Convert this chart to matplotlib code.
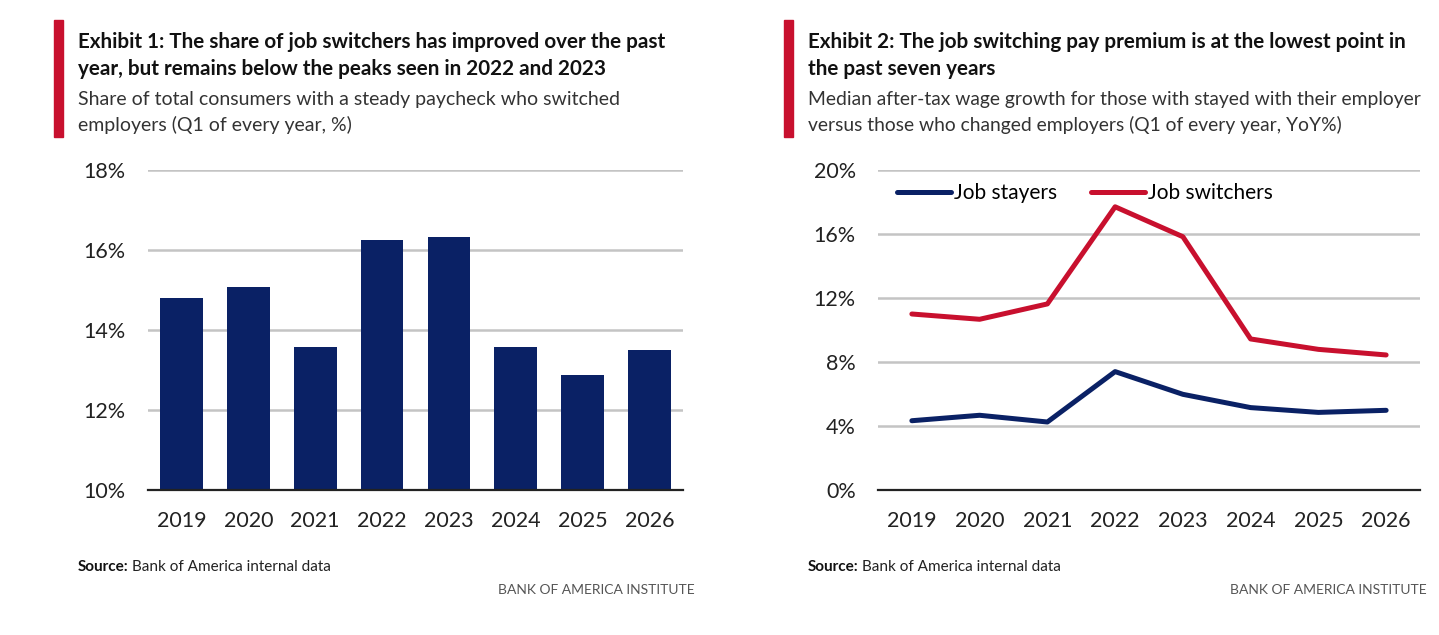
import matplotlib
matplotlib.use("Agg")
import matplotlib.pyplot as plt
from matplotlib.patches import Rectangle
import numpy as np

plt.rcParams['font.family'] = ['Lato', 'DejaVu Sans']

# data
years = ['2019', '2020', '2021', '2022', '2023', '2024', '2025', '2026']
switcher_share = [14.8, 15.08, 13.58, 16.26, 16.32, 13.57, 12.88, 13.5]
stayers = [4.33, 4.67, 4.25, 7.40, 5.98, 5.15, 4.85, 4.98]
switchers = [11.0, 10.67, 11.63, 17.7, 15.83, 9.44, 8.79, 8.44]

W, H = 1439, 635
navy = '#0a2165'
red = '#c8102e'
grid_col = '#c4c4c4'


def px(x, y):
    # pixel position (top-left origin) -> figure fraction
    return x / W, 1 - y / H


def ax_rect(x0, x1, y0, y1):
    return [x0 / W, 1 - y1 / H, (x1 - x0) / W, (y1 - y0) / H]


def style_axis(ax):
    for s in ['top', 'right', 'left']:
        ax.spines[s].set_visible(False)
    ax.spines['bottom'].set_color('#222222')
    ax.spines['bottom'].set_linewidth(1.6)
    ax.grid(axis='y', color=grid_col, linewidth=1.8)
    ax.set_axisbelow(True)
    ax.tick_params(axis='both', length=0, labelsize=15.5, colors='#222222')
    ax.tick_params(axis='y', pad=16)
    ax.tick_params(axis='x', pad=15)
    ax.set_xlim(-0.5, len(years) - 0.5)


def header(x, bar_x, title, subtitle, sub_size):
    fig.patches.append(Rectangle(px(bar_x, 137), 9 / W, 117 / H,
                                 transform=fig.transFigure, color=red))
    for line, y in zip(title, [48, 75]):
        fig.text(*px(x, y), line, fontsize=14.9, fontweight='bold',
                 va='baseline', ha='left', color='#111111')
    for line, y in zip(subtitle, [105, 131]):
        fig.text(*px(x, y), line, fontsize=sub_size, va='baseline',
                 ha='left', color='#333333')


def footer(x, right):
    t = fig.text(*px(x, 571), 'Source:', fontsize=11, fontweight='bold',
                 va='baseline', ha='left', color='#111111')
    fig.canvas.draw()
    bb = t.get_window_extent()
    fig.text(bb.x1 / W + 3 / W, 1 - 571 / H, 'Bank of America internal data',
             fontsize=11, va='baseline', ha='left', color='#222222')
    fig.text(*px(right, 594), 'BANK OF AMERICA INSTITUTE', fontsize=10,
             va='baseline', ha='right', color='#555555')


fig = plt.figure(figsize=(W / 100, H / 100), dpi=100)

# Exhibit 1: bar chart
ax1 = fig.add_axes(ax_rect(148, 683, 170, 490))
x = np.arange(len(years))
ax1.bar(x, switcher_share, width=0.64, color=navy)
ax1.set_ylim(10, 18)
ax1.set_yticks([10, 12, 14, 16, 18])
ax1.set_yticklabels([f'{v}%' for v in [10, 12, 14, 16, 18]])
ax1.set_xticks(x)
ax1.set_xticklabels(years)
style_axis(ax1)

header(78, 54,
       ['Exhibit 1: The share of job switchers has improved over the past',
        'year, but remains below the peaks seen in 2022 and 2023'],
       ['Share of total consumers with a steady paycheck who switched',
        'employers (Q1 of every year, %)'], 14.0)
footer(78, 695)

# Exhibit 2: line chart
ax2 = fig.add_axes(ax_rect(878, 1420, 170, 490))
ax2.plot(x, stayers, color=navy, linewidth=3.6, solid_capstyle='round',
         solid_joinstyle='round', label='Job stayers')
ax2.plot(x, switchers, color=red, linewidth=3.6, solid_capstyle='round',
         solid_joinstyle='round', label='Job switchers')
ax2.set_ylim(0, 20)
ax2.set_yticks([0, 4, 8, 12, 16, 20])
ax2.set_yticklabels([f'{v}%' for v in [0, 4, 8, 12, 16, 20]])
ax2.set_xticks(x)
ax2.set_xticklabels(years)
style_axis(ax2)
ax2.legend(loc='upper left', bbox_to_anchor=(0.02, 0.985), ncol=2,
           frameon=False, fontsize=15, handlelength=2.6,
           handletextpad=0.15, columnspacing=1.6, borderaxespad=0)

header(808, 784,
       ['Exhibit 2: The job switching pay premium is at the lowest point in',
        'the past seven years'],
       ['Median after-tax wage growth for those with stayed with their employer',
        'versus those who changed employers (Q1 of every year, YoY%)'], 13.85)
footer(808, 1427)

fig.savefig('out.png', dpi=100, facecolor='white')
